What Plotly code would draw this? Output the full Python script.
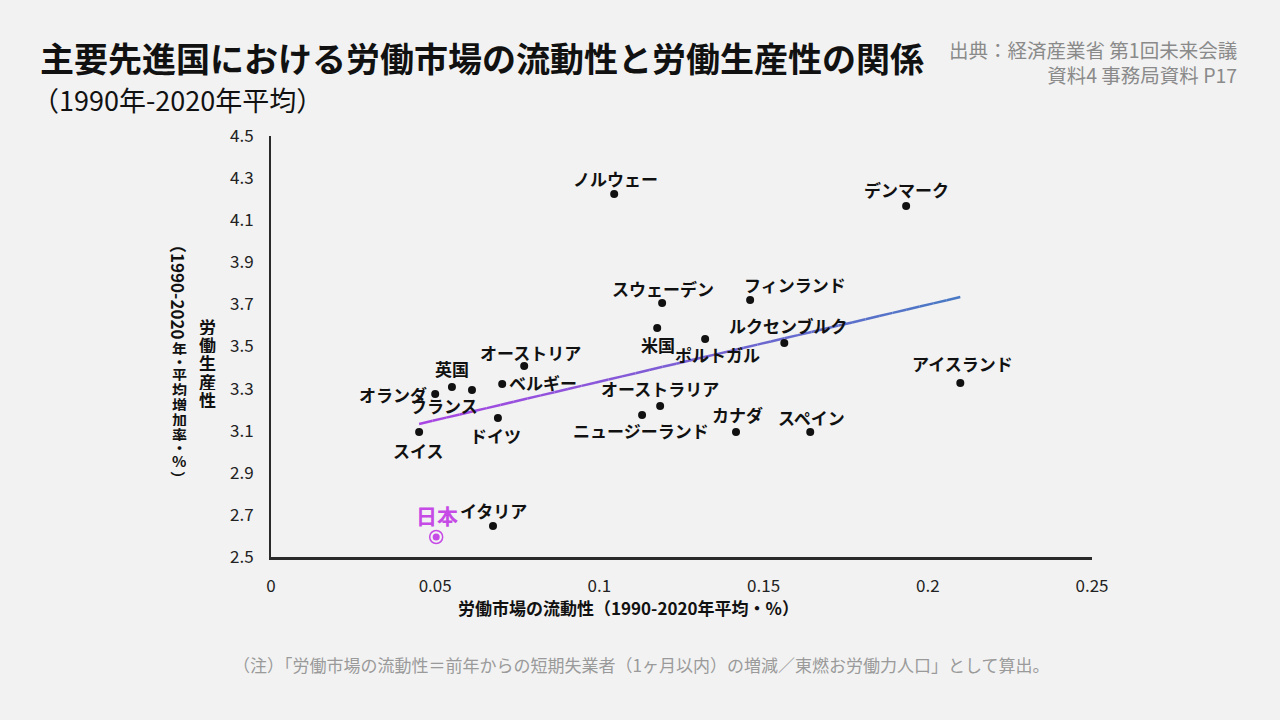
import numpy as np
import plotly.graph_objects as go

FONT = "Noto Sans CJK JP"

# 労働市場の流動性 (x) と 労働生産性 (y)
countries = [
    "ノルウェー", "デンマーク", "スウェーデン", "フィンランド", "米国",
    "ルクセンブルク", "ポルトガル", "アイスランド", "オーストラリア",
    "ニュージーランド", "カナダ", "スペイン", "オーストリア", "ベルギー",
    "英国", "フランス", "オランダ", "ドイツ", "スイス", "イタリア",
]
mobility = [
    0.1045, 0.1934, 0.1191, 0.1459, 0.1176,
    0.1563, 0.1322, 0.2099, 0.1185,
    0.1130, 0.1416, 0.1642, 0.0771, 0.0704,
    0.0551, 0.0612, 0.0500, 0.0691, 0.0451, 0.0676,
]
productivity = [
    4.224, 4.167, 3.707, 3.721, 3.588,
    3.517, 3.536, 3.327, 3.217,
    3.175, 3.094, 3.094, 3.407, 3.322,
    3.308, 3.293, 3.274, 3.160, 3.094, 2.647,
]
japan_x = [0.0503]
japan_y = [2.595]

trend_x = [0.0451, 0.2099]
trend_y = [3.132, 3.735]

x_ticks = [0, 0.05, 0.1, 0.15, 0.2, 0.25]
y_ticks = [2.5, 2.7, 2.9, 3.1, 3.3, 3.5, 3.7, 3.9, 4.1, 4.3, 4.5]

# label placement (xshift, yshift, xanchor)
label_pos = {
    "ノルウェー": (1, 16, "center"),
    "デンマーク": (0, 17, "center"),
    "スウェーデン": (1, 14, "center"),
    "フィンランド": (-8, 15, "left"),
    "米国": (1, -17, "center"),
    "ルクセンブルク": (4, 17, "center"),
    "ポルトガル": (12, -16, "center"),
    "アイスランド": (2, 19, "center"),
    "オーストラリア": (0, 18, "center"),
    "ニュージーランド": (-1, -16, "center"),
    "カナダ": (1, 17, "center"),
    "スペイン": (1, 14, "center"),
    "オーストリア": (6, 14, "center"),
    "ベルギー": (5, 1, "left"),
    "英国": (0, 18, "center"),
    "フランス": (-28, -15, "center"),
    "オランダ": (-6, 0, "right"),
    "ドイツ": (-2, -17, "center"),
    "スイス": (-1, -19, "center"),
    "イタリア": (0, 16, "center"),
}

# plot area in pixels
L, R, T, B = 271, 1092, 136, 557


def px(x):
    return (x - L) / (R - L)


def py(y):
    return (B - y) / (B - T)


fig = go.Figure()

# trend line drawn as short pieces to fake the purple→blue gradient
n_seg = 40
c0 = np.array([170, 70, 228])
c1 = np.array([72, 122, 196])
for i in range(n_seg):
    t0, t1 = i / n_seg, (i + 1) / n_seg
    xs = [trend_x[0] + (trend_x[1] - trend_x[0]) * t for t in (t0, t1)]
    ys = [trend_y[0] + (trend_y[1] - trend_y[0]) * t for t in (t0, t1)]
    c = c0 + (c1 - c0) * (t0 + t1) / 2
    fig.add_trace(go.Scatter(
        x=xs, y=ys, mode="lines",
        line=dict(color="rgb(%d,%d,%d)" % tuple(c.astype(int)), width=2.5),
        hoverinfo="skip", showlegend=False,
    ))

fig.add_trace(go.Scatter(
    x=mobility, y=productivity, mode="markers",
    marker=dict(color="#111111", size=8),
    text=countries, hovertemplate="%{text}<br>%{x}, %{y}<extra></extra>",
    showlegend=False,
))

# 日本
fig.add_trace(go.Scatter(
    x=japan_x, y=japan_y, mode="markers",
    marker=dict(symbol="circle-open", color="#c64ae6", size=13, line=dict(width=1.5)),
    hoverinfo="skip", showlegend=False,
))
fig.add_trace(go.Scatter(
    x=japan_x, y=japan_y, mode="markers",
    marker=dict(color="#c64ae6", size=7),
    hovertemplate="日本<br>%{x}, %{y}<extra></extra>", showlegend=False,
))

annotations = []
for name, x, y in zip(countries, mobility, productivity):
    dx, dy, anchor = label_pos[name]
    annotations.append(dict(
        x=x, y=y, text="<b>%s</b>" % name, showarrow=False,
        xshift=dx, yshift=dy, xanchor=anchor, yanchor="middle",
        font=dict(family=FONT, size=17, color="#111111"),
    ))
annotations.append(dict(
    x=japan_x[0], y=japan_y[0], text="<b>日本</b>", showarrow=False,
    xshift=1, yshift=22, xanchor="center", yanchor="middle",
    font=dict(family=FONT, size=21, color="#c64ae6"),
))


def label(x, y, text, size, color="#111111", anchor="left", angle=0, align="left", height=None):
    annotations.append(dict(
        xref="paper", yref="paper", x=px(x), y=py(y), text=text,
        showarrow=False, xanchor=anchor, yanchor="middle", textangle=angle,
        align=align, height=height, font=dict(family=FONT, size=size, color=color),
    ))


label(38, 57, "<b>主要先進国における労働市場の流動性と労働生産性の関係</b>", 34)
label(30, 100, "（1990年-2020年平均）", 27)
label(1239, 62, "出典：経済産業省 第1回未来会議<br>資料4 事務局資料 P17", 19.5,
      color="#8a8a8a", anchor="right", align="right")
label(628, 607, "<b>労働市場の流動性（1990-2020年平均・%）</b>", 17, anchor="center")
label(641, 664, "（注）「労働市場の流動性＝前年からの短期失業者（1ヶ月以内）の増減／東燃お労働力人口」として算出。",
      17, color="#9a9a9a", anchor="center")

# vertical y-axis title, one glyph at a time
for i, ch in enumerate("労働生産性"):
    label(207, 326 + 18.2 * i, "<b>%s</b>" % ch, 17, anchor="center", height=18)
label(179, 288, "<b>（1990-2020</b>", 17, anchor="center", angle=90)
col2 = [("年", 348), ("・", 361), ("平", 374), ("均", 389), ("増", 404),
        ("加", 419), ("率", 434), ("・", 447), ("%", 460)]
for ch, yy in col2:
    label(179, yy, "<b>%s</b>" % ch, 15, anchor="center", height=14)
label(179, 478, "<b>）</b>", 15, anchor="center", angle=90)

fig.update_layout(
    width=1280, height=720,
    margin=dict(l=L, r=1280 - R, t=T, b=720 - B),
    paper_bgcolor="#f2f2f2", plot_bgcolor="#f2f2f2",
    font=dict(family=FONT, color="#222222"),
    annotations=annotations,
    showlegend=False,
)
fig.update_xaxes(
    range=[0, 0.25], tickvals=x_ticks, ticktext=[("%g" % v) for v in x_ticks],
    showgrid=False, zeroline=False, showline=True, linecolor="#2a2a2a", linewidth=2.5,
    ticks="", ticklabelstandoff=12, tickfont=dict(family=FONT, size=17, color="#222222"),
)
fig.update_yaxes(
    range=[2.5, 4.5], tickvals=y_ticks, ticktext=[("%.1f" % v) for v in y_ticks],
    showgrid=False, zeroline=False, showline=True, linecolor="#2a2a2a", linewidth=2,
    ticks="", ticklabelstandoff=12, tickfont=dict(family=FONT, size=17, color="#222222"),
)

fig.write_html(
    "out.html",
    config={"displayModeBar": False},
    post_script="document.body.style.margin='0';document.body.style.background='#f2f2f2';",
)
